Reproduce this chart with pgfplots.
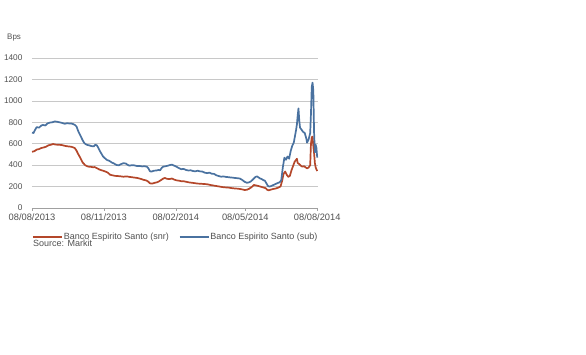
\documentclass[border=0pt]{standalone}
\usepackage{fontspec}
\setmainfont{Liberation Sans}
\usepackage{pgfplots}
\pgfplotsset{compat=1.18}
\definecolor{bblue}{HTML}{4A72A0}
\definecolor{bred}{HTML}{B4472A}
\definecolor{txt}{HTML}{505050}
\definecolor{grd}{HTML}{C8C8C8}
\begin{document}
\begin{tikzpicture}[x=1pt,y=1pt]
\useasboundingbox (0,0) rectangle (586,355);
\begin{axis}[
  at={(32pt,147pt)}, anchor=south west,
  scale only axis, width=286pt, height=150pt,
  xmin=0, xmax=366, ymin=0, ymax=1400,
  axis x line*=bottom, axis y line*=left,
  x axis line style={draw=grd!80!black, line width=0.6pt},
  y axis line style={draw=none},
  xtick={0,92,184,273,365},
  xticklabels={08/08/2013,08/11/2013,08/02/2014,08/05/2014,08/08/2014},
  xtick style={draw=grd!80!black, line width=0.5pt},
  tick align=outside, major tick length=3pt,
  ytick={0,200,...,1400},
  ymajorgrids, grid style={grd, line width=0.6pt},
  /pgf/number format/assume math mode=true,
  /pgf/number format/1000 sep={},
  yticklabel style={font=\fontsize{8.3}{9}\selectfont, text=txt, xshift=-3pt},
  xticklabel style={font=\fontsize{9.3}{10}\selectfont, text=txt, yshift=1pt},
  ytick style={draw=none},
  clip=false,
  legend style={at={(0.0,-0.193)}, anchor=west, draw=none, fill=none, inner sep=0pt,
    legend columns=2, font=\fontsize{9}{10}\selectfont, text=txt,
    /tikz/every even column/.append style={column sep=9pt},
    nodes={inner sep=1pt}},
  legend image code/.code={\draw[#1, line width=1.6pt] (0pt,0pt) -- (29pt,0pt);},
  every axis plot/.append style={line width=1.7pt, line join=round},
]
\addplot[bred] coordinates {
(0,525)(3,530)(6,545)(9,550)(12,560)(15,565)(18,572)(21,585)(24,590)(27,597)(30,592)(34,590)(38,588)(42,580)(46,575)(50,572)(53,565)(55,557)(57,535)(59,505)(61,479)(63,450)(65,423)(68,400)(70,392)(72,386)(75,385)(78,380)(80,382)(83,372)(86,360)(89,352)(91,348)(94,340)(97,330)(100,310)(103,305)(106,300)(110,298)(114,295)(117,292)(121,295)(125,290)(130,285)(135,280)(140,270)(143,262)(146,258)(149,245)(151,230)(154,228)(157,235)(160,240)(162,246)(165,260)(168,275)(170,280)(173,272)(176,270)(179,275)(182,265)(185,258)(188,255)(191,250)(194,250)(197,245)(200,240)(204,236)(208,232)(212,228)(216,226)(220,224)(224,222)(228,215)(232,210)(236,205)(240,200)(244,195)(248,192)(252,190)(256,185)(260,182)(264,180)(267,176)(270,172)(272,168)(275,170)(278,180)(281,195)(284,215)(287,210)(290,205)(293,198)(296,192)(299,185)(301,170)(303,165)(306,172)(309,178)(312,182)(315,190)(318,200)(320,250)(322,320)(324,340)(326,310)(328,290)(330,300)(332,350)(334,390)(336,430)(338,450)(339,460)(340,420)(342,410)(344,395)(346,386)(348,390)(350,380)(352,370)(354,378)(356,400)(357,600)(358,660)(359,666)(360,580)(361,510)(362,420)(363,380)(364,360)(365,345)
};
\addlegendentry{Banco Espirito Santo (snr)}
\addplot[bblue] coordinates {
(0,703)(2,700)(4,730)(6,755)(9,750)(12,770)(14,775)(17,770)(20,790)(23,797)(26,800)(29,808)(32,805)(35,800)(38,795)(42,786)(45,792)(48,788)(50,790)(53,782)(55,775)(57,760)(59,720)(61,690)(63,660)(65,630)(67,605)(70,590)(73,585)(76,578)(79,575)(81,590)(83,585)(85,560)(87,530)(89,505)(91,480)(94,460)(96,448)(99,440)(102,425)(105,415)(108,402)(111,398)(114,410)(117,418)(120,415)(123,400)(125,395)(128,400)(131,398)(134,392)(138,392)(141,388)(144,390)(147,386)(149,370)(151,342)(153,340)(156,348)(159,350)(162,355)(164,352)(166,375)(168,386)(171,390)(174,395)(177,402)(179,405)(182,395)(185,385)(188,372)(191,362)(194,365)(197,355)(200,350)(203,352)(206,345)(209,342)(212,348)(215,342)(218,340)(221,330)(224,325)(227,330)(230,320)(233,318)(236,305)(239,298)(242,292)(245,295)(248,290)(251,288)(254,285)(257,283)(260,280)(263,278)(266,275)(269,262)(272,245)(275,235)(278,240)(280,248)(283,268)(286,290)(288,295)(290,285)(292,275)(294,270)(296,260)(298,255)(300,230)(302,205)(304,200)(306,205)(309,215)(312,225)(315,235)(317,240)(319,260)(321,380)(323,470)(325,450)(327,480)(329,460)(331,530)(333,580)(335,610)(337,690)(338,730)(339,780)(340,860)(341,930)(342,820)(343,750)(345,730)(347,710)(349,700)(351,650)(352,610)(354,640)(356,700)(357,880)(358,1130)(359,1170)(360,1100)(361,700)(362,520)(363,590)(364,560)(365,470)
};
\addlegendentry{Banco Espirito Santo (sub)}
\end{axis}
\node[anchor=west, font=\fontsize{8}{9}\selectfont, text=txt, inner sep=0pt] at (7,317) {Bps};
\node[anchor=west, font=\fontsize{9}{10}\selectfont, text=txt, inner sep=0pt] at (33,112) {Source: Markit};
\end{tikzpicture}
\end{document}
